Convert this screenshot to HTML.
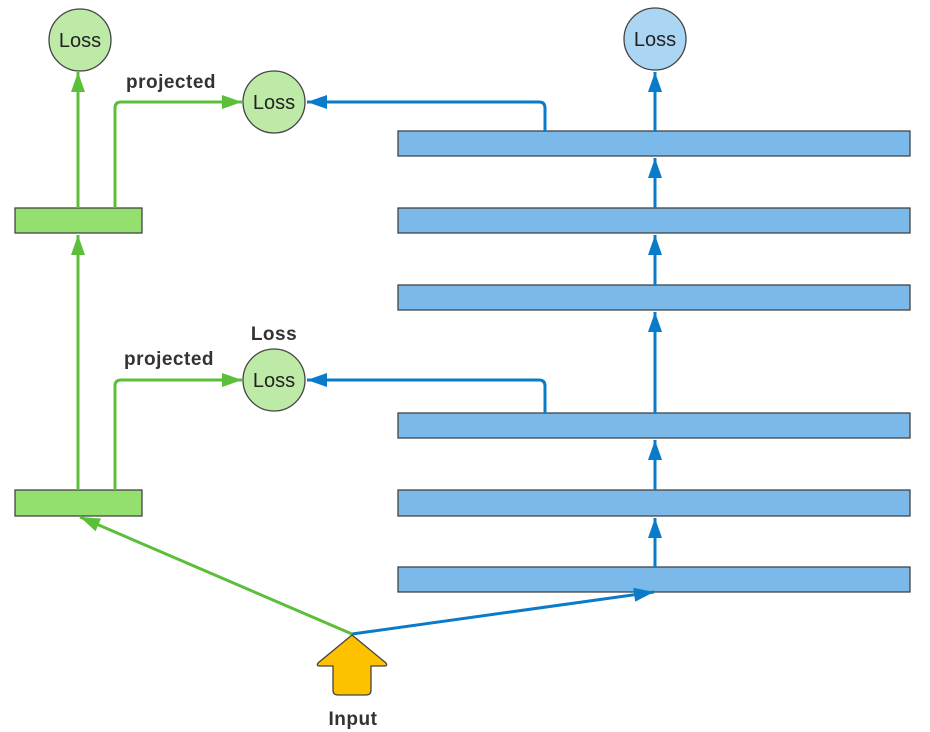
<!DOCTYPE html>
<html><head><style>body{margin:0;background:#fff}svg{display:block}</style></head><body>
<svg width="930" height="732" viewBox="0 0 930 732" xmlns="http://www.w3.org/2000/svg" font-family="Liberation Sans, sans-serif">
<defs>
<marker id="gA" markerWidth="20" markerHeight="14" refX="20" refY="7" orient="auto" markerUnits="userSpaceOnUse"><path d="M0,0 L20,7 L0,14 z" fill="#5cbf3a"/></marker>
<marker id="bA" markerWidth="20" markerHeight="14" refX="20" refY="7" orient="auto" markerUnits="userSpaceOnUse"><path d="M0,0 L20,7 L0,14 z" fill="#0a7bc9"/></marker>
</defs>
<g stroke="#444" stroke-width="1.3" fill="#7ab9ea">
<rect x="398" y="131" width="512" height="25"/>
<rect x="398" y="208" width="512" height="25"/>
<rect x="398" y="285" width="512" height="25"/>
<rect x="398" y="413" width="512" height="25"/>
<rect x="398" y="490" width="512" height="26"/>
<rect x="398" y="567" width="512" height="25"/>
</g>
<g stroke="#444" stroke-width="1.3" fill="#93e06e">
<rect x="15" y="208" width="127" height="25"/>
<rect x="15" y="490" width="127" height="26"/>
</g>
<g stroke="#0a7bc9" stroke-width="3" fill="none" marker-end="url(#bA)">
<line x1="655" y1="131" x2="655" y2="72"/>
<line x1="655" y1="208" x2="655" y2="158"/>
<line x1="655" y1="285" x2="655" y2="235"/>
<line x1="655" y1="413" x2="655" y2="312"/>
<line x1="655" y1="490" x2="655" y2="440"/>
<line x1="655" y1="567" x2="655" y2="518"/>
<path d="M545,131 V108 Q545,102 539,102 H307"/>
<path d="M545,413 V386 Q545,380 539,380 H307"/>
<line x1="352" y1="634" x2="654" y2="592"/>
</g>
<g stroke="#5cbf3a" stroke-width="3" fill="none" marker-end="url(#gA)">
<line x1="78" y1="208" x2="78" y2="72"/>
<line x1="78" y1="490" x2="78" y2="235"/>
<path d="M115,208 V108 Q115,102 121,102 H242"/>
<path d="M115,490 V386 Q115,380 121,380 H242"/>
<line x1="352" y1="634" x2="80" y2="517"/>
</g>
<g stroke="#444" stroke-width="1.3">
<circle cx="80" cy="40" r="31" fill="#bdeaa6"/>
<circle cx="274" cy="102" r="31" fill="#bdeaa6"/>
<circle cx="274" cy="380" r="31" fill="#bdeaa6"/>
<circle cx="655" cy="39" r="31" fill="#aad6f3"/>
</g>
<g font-size="20" fill="#222" text-anchor="middle">
<text x="80" y="47">Loss</text>
<text x="274" y="109">Loss</text>
<text x="274" y="387">Loss</text>
<text x="655" y="46">Loss</text>
</g>
<g font-size="19" font-weight="bold" fill="#333" text-anchor="middle" letter-spacing="0.5">
<text x="171" y="88">projected</text>
<text x="169" y="365">projected</text>
<text x="274" y="340">Loss</text>
<text x="353" y="725">Input</text>
</g>
<path d="M352,635 L386,663 Q388,666 384,666 L371,666 L371,690 Q371,695 366,695 L338,695 Q333,695 333,690 L333,666 L320,666 Q316,666 318,663 Z" fill="#fdc100" stroke="#444" stroke-width="1.3"/>
</svg>
</body></html>
